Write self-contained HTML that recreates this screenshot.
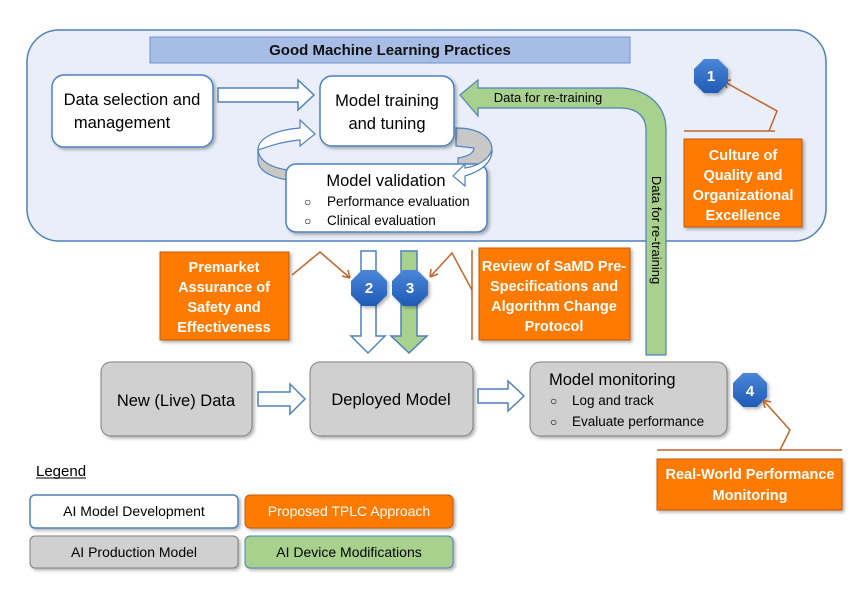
<!DOCTYPE html>
<html><head><meta charset="utf-8"><style>
body{margin:0;background:#fff;}
svg text{font-family:"Liberation Sans",sans-serif;}
</style></head><body>
<svg width="858" height="585" viewBox="0 0 858 585" xmlns="http://www.w3.org/2000/svg">
<defs>
<filter id="sh" x="-10%" y="-10%" width="130%" height="130%"><feDropShadow dx="2" dy="2" stdDeviation="1.5" flood-color="#000" flood-opacity="0.3"/></filter>
<linearGradient id="oct" x1="0" y1="0" x2="0" y2="1"><stop offset="0" stop-color="#4a86d8"/><stop offset="1" stop-color="#1f5bb5"/></linearGradient>
</defs>
<rect x="27" y="30" width="799" height="211" rx="32" fill="#e9eef8" stroke="#4f81bd" stroke-width="1.5"/>
<rect x="150" y="37" width="480" height="26" fill="#a7bde6" stroke="#6d92d2"/>
<text x="390" y="55" text-anchor="middle" font-size="15" font-weight="bold" fill="#111">Good Machine Learning Practices</text>

<rect x="52" y="75" width="161" height="72" rx="12" fill="#fff" stroke="#4f81bd" stroke-width="1.5" filter="url(#sh)"/>
<text x="132" y="105" text-anchor="middle" font-size="16.5">Data selection and</text>
<text x="122" y="128" text-anchor="middle" font-size="16.5">management</text>
<path d="M218 88 H298 V80 L314 95 L298 110 V102 H218 Z" fill="#fff" stroke="#4f81bd" stroke-width="1.5"/>

<path d="M456 128 C480 128 492 138 492 150 C492 162 480 172 465 174 L458 172 V158 C470 156 474 152 474 148 L456 146 Z" fill="#c8c8c8" stroke="#4f81bd" stroke-width="1.2"/>
<path d="M258 148 C258 165 280 172 315 172 V182 C275 182 258 172 258 160 Z" fill="#c8c8c8" stroke="#4f81bd" stroke-width="1.2"/>
<path d="M258 150 C258 138 275 130 300 128 V120 L315 134 L300 146 V140 C280 142 270 146 258 150 Z" fill="#fff" stroke="#4f81bd" stroke-width="1.2"/>
<rect x="320" y="76" width="134" height="70" rx="12" fill="#fff" stroke="#4f81bd" stroke-width="1.5" filter="url(#sh)"/>
<text x="387" y="106" text-anchor="middle" font-size="16.5">Model training</text>
<text x="387" y="129" text-anchor="middle" font-size="16.5">and tuning</text>
<rect x="286" y="164" width="201" height="68" rx="10" fill="#fff" stroke="#4f81bd" stroke-width="1.5" filter="url(#sh)"/>
<path d="M492 150 C492 165 478 172 465 176 V186 L453 176 L465 164 V168 C478 166 488 160 492 150 Z" fill="#fff" stroke="#4f81bd" stroke-width="1.2"/>
<text x="386" y="186" text-anchor="middle" font-size="16.5">Model validation</text>
<text x="304" y="206" font-size="12">○</text><text x="327" y="206" font-size="13.5">Performance evaluation</text>
<text x="304" y="225" font-size="12">○</text><text x="327" y="225" font-size="13.5">Clinical evaluation</text>

<path d="M460 95 L478 80 V88 H620 C640 88 666 100 666 130 V355 H646 V130 C646 115 635 108 620 108 H478 V116 Z" fill="#a9d18e" stroke="#4f81bd" stroke-width="1.2"/>
<text x="548" y="102" text-anchor="middle" font-size="13">Data for re-training</text>
<text transform="translate(652,230) rotate(90)" text-anchor="middle" font-size="13">Data for re-training</text>

<line x1="684" y1="131" x2="775" y2="131" stroke="#c0662b" stroke-width="1.5"/>
<path d="M769 131 L777 111 L723 81" fill="none" stroke="#c0662b" stroke-width="1.5"/>
<path d="M723 81 L731 80 M723 81 L727 88" stroke="#c0662b" stroke-width="1.5"/>
<rect x="684" y="139" width="118" height="88" fill="#ff7a00" stroke="#c55a11" filter="url(#sh)"/>
<text font-size="14.5" font-weight="bold" fill="#fff" text-anchor="middle"><tspan x="743" y="160">Culture of</tspan><tspan x="743" y="180">Quality and</tspan><tspan x="743" y="200">Organizational</tspan><tspan x="743" y="220">Excellence</tspan></text>
<polygon points="704,59 718,59 728,69 728,83 718,93 704,93 694,83 694,69" fill="url(#oct)" filter="url(#sh)"/>
<text x="711" y="81" text-anchor="middle" font-size="15" font-weight="bold" fill="#fff">1</text>

<rect x="160" y="252" width="129" height="88" fill="#ff7a00" stroke="#c55a11" filter="url(#sh)"/>
<text font-size="14.5" font-weight="bold" fill="#fff" text-anchor="middle"><tspan x="224" y="272">Premarket</tspan><tspan x="224" y="292">Assurance of</tspan><tspan x="224" y="312">Safety and</tspan><tspan x="224" y="332">Effectiveness</tspan></text>
<path d="M292 275 L320 252 L350 278" fill="none" stroke="#c0662b" stroke-width="1.5"/>
<path d="M350 278 L342 276 M350 278 L348 270" stroke="#c0662b" stroke-width="1.5"/>
<rect x="479" y="248" width="151" height="92" fill="#ff7a00" stroke="#c55a11" filter="url(#sh)"/>
<text font-size="14.5" font-weight="bold" fill="#fff" text-anchor="middle"><tspan x="554" y="271">Review of SaMD Pre-</tspan><tspan x="554" y="291">Specifications and</tspan><tspan x="554" y="311">Algorithm Change</tspan><tspan x="554" y="331">Protocol</tspan></text>
<line x1="472" y1="250" x2="472" y2="340" stroke="#c0662b" stroke-width="1.5"/>
<path d="M472 290 L452 253 L430 277" fill="none" stroke="#c0662b" stroke-width="1.5"/>
<path d="M430 277 L438 274 M430 277 L431 269" stroke="#c0662b" stroke-width="1.5"/>

<path d="M361 251 H376 V336 H385 L368 353 L351 336 H361 Z" fill="#fff" stroke="#4f81bd" stroke-width="1.5"/>
<path d="M401 251 H417 V336 H427 L409 353 L391 336 H401 Z" fill="#a9d18e" stroke="#4f81bd" stroke-width="1.5"/>
<polygon points="362,270 376,270 387,281 387,295 376,306 362,306 351,295 351,281" fill="url(#oct)" filter="url(#sh)"/>
<text x="369" y="293" text-anchor="middle" font-size="15" font-weight="bold" fill="#fff">2</text>
<polygon points="403,270 417,270 428,281 428,295 417,306 403,306 392,295 392,281" fill="url(#oct)" filter="url(#sh)"/>
<text x="410" y="293" text-anchor="middle" font-size="15" font-weight="bold" fill="#fff">3</text>

<rect x="101" y="362" width="151" height="74" rx="10" fill="#d0d0d0" stroke="#7f7f7f" filter="url(#sh)"/>
<text x="176" y="406" text-anchor="middle" font-size="16.5">New (Live) Data</text>
<path d="M258 392 H290 V384 L305 399 L290 414 V406 H258 Z" fill="#fff" stroke="#4f81bd" stroke-width="1.5"/>
<rect x="310" y="362" width="163" height="74" rx="10" fill="#d0d0d0" stroke="#7f7f7f" filter="url(#sh)"/>
<text x="391" y="405" text-anchor="middle" font-size="16.5">Deployed Model</text>
<path d="M478 389 H508 V381 L524 396 L508 411 V403 H478 Z" fill="#fff" stroke="#4f81bd" stroke-width="1.5"/>
<rect x="530" y="362" width="197" height="74" rx="10" fill="#d0d0d0" stroke="#7f7f7f" filter="url(#sh)"/>
<text x="549" y="385" font-size="16.5">Model monitoring</text>
<text x="550" y="405" font-size="12">○</text><text x="572" y="405" font-size="13.5">Log and track</text>
<text x="550" y="426" font-size="12">○</text><text x="572" y="426" font-size="13.5">Evaluate performance</text>

<polygon points="743,373 757,373 767,383 767,397 757,407 743,407 733,397 733,383" fill="url(#oct)" filter="url(#sh)"/>
<text x="750" y="396" text-anchor="middle" font-size="15" font-weight="bold" fill="#fff">4</text>
<line x1="657" y1="450" x2="842" y2="450" stroke="#c0662b" stroke-width="1.5"/>
<path d="M780 450 L790 430 L763 400" fill="none" stroke="#c0662b" stroke-width="1.5"/>
<path d="M763 400 L765 408 M763 400 L771 402" stroke="#c0662b" stroke-width="1.5"/>
<rect x="657" y="459" width="185" height="51" fill="#ff7a00" stroke="#c55a11" filter="url(#sh)"/>
<text font-size="14.5" font-weight="bold" fill="#fff" text-anchor="middle"><tspan x="750" y="479">Real-World Performance</tspan><tspan x="750" y="500">Monitoring</tspan></text>

<text x="36" y="476" font-size="15">Legend</text>
<line x1="36" y1="478" x2="86" y2="478" stroke="#000"/>
<rect x="30" y="495" width="208" height="33" rx="5" fill="#fff" stroke="#4f81bd" stroke-width="1.5" filter="url(#sh)"/>
<text x="134" y="516" text-anchor="middle" font-size="14">AI Model Development</text>
<rect x="245" y="495" width="208" height="33" rx="5" fill="#ff7a00" stroke="#c55a11" filter="url(#sh)"/>
<text x="349" y="516" text-anchor="middle" font-size="14" fill="#fff">Proposed TPLC Approach</text>
<rect x="30" y="536" width="208" height="32" rx="5" fill="#d0d0d0" stroke="#7f7f7f" filter="url(#sh)"/>
<text x="134" y="557" text-anchor="middle" font-size="14">AI Production Model</text>
<rect x="245" y="536" width="208" height="32" rx="5" fill="#a9d18e" stroke="#4f81bd" filter="url(#sh)"/>
<text x="349" y="557" text-anchor="middle" font-size="14">AI Device Modifications</text>
</svg>
</body></html>
